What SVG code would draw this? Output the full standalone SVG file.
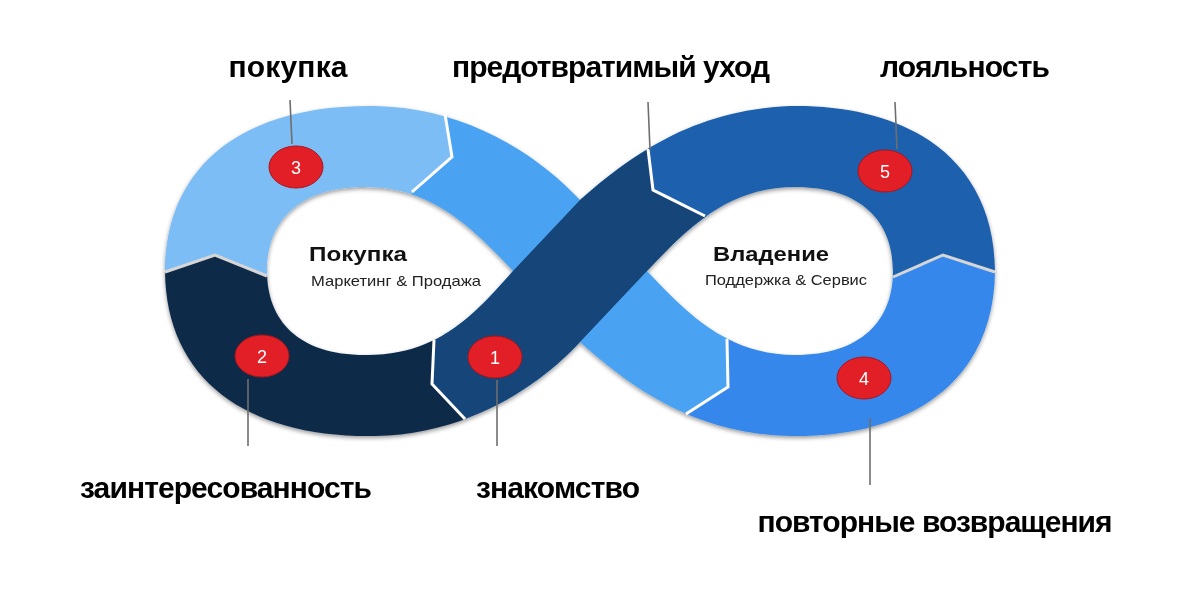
<svg xmlns="http://www.w3.org/2000/svg" xmlns:xlink="http://www.w3.org/1999/xlink" width="1200" height="606" viewBox="0 0 1200 606">
<style>
.lbl{font-family:"Liberation Sans",Arial,sans-serif;font-weight:bold;font-size:30px;fill:#000;text-anchor:middle}
.ttl{font-family:"Liberation Sans",Arial,sans-serif;font-weight:bold;font-size:21px;fill:#111}
.sub{font-family:"Liberation Sans",Arial,sans-serif;font-size:14.5px;fill:#222}
.num{font-family:"Liberation Sans",Arial,sans-serif;font-size:18px;fill:#fff;text-anchor:middle}
.badge{fill:#e21f26;stroke:#a9151b;stroke-width:1}
.lead{stroke:#6e6e6e;stroke-width:1.6;fill:none}
.joint{fill:none;stroke:#fff;stroke-width:3;stroke-linejoin:miter}
.jgray{stroke:#d6d6d6}
</style>
<defs>
<filter id="sh" x="-10%" y="-15%" width="120%" height="135%">
<feDropShadow dx="0" dy="2" stdDeviation="2.2" flood-color="#000" flood-opacity="0.4"/>
</filter>
<path id="sil" fill-rule="evenodd" d="M580 200 C540 157 470 108 375 106 C250 104 166 160 165 271 C166 382 250 438 375 436 C470 434 540 385 580 342 C625 382 690 434 790 436 C910 438 994 382 995 271 C994 160 910 104 790 106 C690 110 625 160 580 200 Z M513 271 C470 225 430 187 365 187 C298 187 267 222 267 271 C267 320 298 355 365 355 C435 356 472 318 513 271 Z M647 271 C690 225 730 187 795 187 C862 187 893 222 893 271 C893 320 862 355 795 355 C730 355 690 317 647 271 Z"/>
<path id="strandD" d="M365 355 C435 356 472 318 513 271 L580 200 C625 160 690 110 790 106 L795 187 C730 187 690 225 647 271 L580 342 C540 385 470 434 375 436 Z"/>
<clipPath id="cpL"><polygon points="443,60 445,114 452,157 412,192 400,240 440,330 600,520 686,414 728,387 727,339 715,300 700,60"/></clipPath>
<clipPath id="cp3"><polygon points="120,287 165,272 215,255 267,276 320,297 400,240 412,192 452,157 445,114 443,60 100,60"/></clipPath>
<clipPath id="cp2"><polygon points="120,287 165,272 215,255 267,276 320,297 400,320 434,340 432,384 465,419 470,480 100,480"/></clipPath>
<clipPath id="cp4"><polygon points="680,480 686,414 728,387 727,339 800,320 840,300 893,277 943,255 995,272 1040,287 1040,480"/></clipPath>
<clipPath id="cp5"><polygon points="1040,287 995,272 943,255 893,277 840,300 760,250 705,216 653,190 648,149 646,60 1040,60"/></clipPath>
<clipPath id="cp1"><polygon points="434,340 432,384 465,419 470,520 800,520 800,250 705,216 653,190 648,149 646,40 300,40 300,300"/></clipPath>
</defs>

<g id="infinity" filter="url(#sh)">
<g id="seg-churn"><use xlink:href="#sil" href="#sil" fill="#4aa3f2" clip-path="url(#cpL)"/></g>
<g id="seg-3"><use xlink:href="#sil" href="#sil" fill="#7dbdf6" clip-path="url(#cp3)"/></g>
<g id="seg-2"><use xlink:href="#sil" href="#sil" fill="#0f2b4a" clip-path="url(#cp2)"/></g>
<g id="seg-4"><use xlink:href="#sil" href="#sil" fill="#3587ec" clip-path="url(#cp4)"/></g>
<g id="seg-5"><use xlink:href="#sil" href="#sil" fill="#1f60ae" clip-path="url(#cp5)"/></g>
<g id="seg-1"><use xlink:href="#strandD" href="#strandD" fill="#174479" clip-path="url(#cp1)"/></g>
<g id="joints">
<polyline class="joint jgray" points="165,272 215,255 267,276"/>
<polyline class="joint" points="445,114 452,157 412,192"/>
<polyline class="joint" points="686,414 728,387 727,339"/>
<polyline class="joint jgray" points="995,272 943,255 893,277"/>
<polyline class="joint" points="648,149 653,190 705,216"/>
<polyline class="joint" points="434,340 432,384 465,419"/>
</g>
</g>

<g id="connectors">
<line class="lead" x1="290" y1="100" x2="292" y2="144"/>
<line class="lead" x1="648" y1="102" x2="650" y2="150"/>
<line class="lead" x1="895" y1="102" x2="897" y2="149"/>
<line class="lead" x1="248" y1="379" x2="248" y2="446"/>
<line class="lead" x1="497" y1="380" x2="497" y2="446"/>
<line class="lead" x1="870" y1="418" x2="870" y2="485"/>
</g>

<g id="center-left">
<text class="ttl" x="309" y="261" textLength="98" lengthAdjust="spacingAndGlyphs">Покупка</text>
<text class="sub" x="311" y="286" textLength="170" lengthAdjust="spacingAndGlyphs">Маркетинг &amp; Продажа</text>
</g>
<g id="center-right">
<text class="ttl" x="713" y="261" textLength="116" lengthAdjust="spacingAndGlyphs">Владение</text>
<text class="sub" x="705" y="285" textLength="162" lengthAdjust="spacingAndGlyphs">Поддержка &amp; Сервис</text>
</g>

<g id="stage-1">
<ellipse class="badge" cx="495" cy="357" rx="27" ry="21"/>
<text class="num" x="495" y="363.5">1</text>
<text class="lbl" x="558" y="498" textLength="164">знакомство</text>
</g>
<g id="stage-2">
<ellipse class="badge" cx="262" cy="356" rx="27" ry="21"/>
<text class="num" x="262" y="362.5">2</text>
<text class="lbl" x="226" y="498" textLength="292">заинтересованность</text>
</g>
<g id="stage-3">
<ellipse class="badge" cx="296" cy="167" rx="27" ry="21"/>
<text class="num" x="296" y="173.5">3</text>
<text class="lbl" x="288" y="77" textLength="119">покупка</text>
</g>
<g id="stage-4">
<ellipse class="badge" cx="864" cy="378" rx="27" ry="21"/>
<text class="num" x="864" y="384.5">4</text>
<text class="lbl" x="935" y="532" textLength="355">повторные возвращения</text>
</g>
<g id="stage-5">
<ellipse class="badge" cx="885" cy="171" rx="27" ry="21"/>
<text class="num" x="885" y="177.5">5</text>
<text class="lbl" x="965" y="77" textLength="170">лояльность</text>
</g>
<g id="stage-churn">
<text class="lbl" x="611" y="77" textLength="318">предотвратимый уход</text>
</g>
</svg>
